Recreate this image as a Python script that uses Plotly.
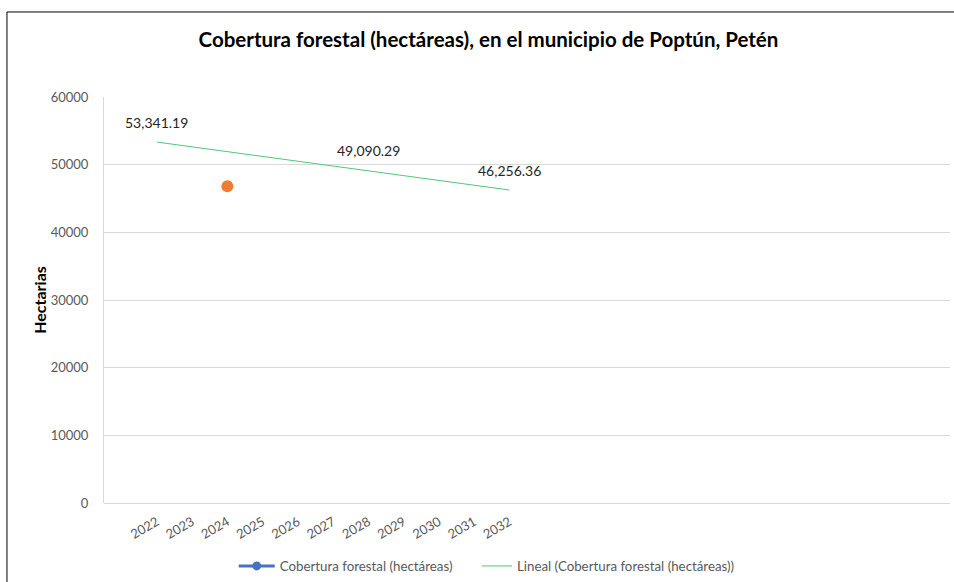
import plotly.graph_objects as go

# ---- data ----
years = [2022, 2023, 2024, 2025, 2026, 2027, 2028, 2029, 2030, 2031, 2032]
tick_labels = [str(y) for y in years]
label_years = [2022, 2028, 2032]
label_values = [53341.19, 49090.29, 46256.36]
trend_years = [2022, 2032]
trend_values = [53341.19, 46256.36]
dot_years = [2024]
dot_values = [46800]
y_ticks = [0, 10000, 20000, 30000, 40000, 50000, 60000]

FONT = "Lato"
fig = go.Figure()

# legend entry for the main series (no visible points)
fig.add_trace(go.Scatter(
    x=[None], y=[None], mode="lines+markers",
    name="Cobertura forestal (hectáreas)",
    line=dict(color="#4472C4", width=3),
    marker=dict(color="#4472C4", size=9),
    legend="legend",
))
# trend line
fig.add_trace(go.Scatter(
    x=trend_years, y=trend_values, mode="lines",
    name="Lineal (Cobertura forestal (hectáreas))",
    line=dict(color="#4CC97A", width=1),
    legend="legend2",
))
# orange point
fig.add_trace(go.Scatter(
    x=dot_years, y=dot_values, mode="markers", showlegend=False,
    marker=dict(color="#ED7D31", size=12),
))

annotations = []
for xv, yv in zip(label_years, label_values):
    annotations.append(dict(
        x=xv, y=yv, xref="x", yref="y", text=f"{yv:,.2f}",
        showarrow=False, yshift=20,
        font=dict(family=FONT, size=14, color="#262626"),
    ))

legend_font = dict(family=FONT, size=13.3, color="#595959")

fig.update_layout(
    width=954, height=582,
    paper_bgcolor="white", plot_bgcolor="white",
    margin=dict(l=104, r=4, t=97, b=79),
    title=dict(
        text="<b>Cobertura forestal (hectáreas), en el municipio de Poptún, Petén</b>",
        x=0.512, xanchor="center", xref="container",
        y=0.932, yanchor="middle", yref="container",
        font=dict(family=FONT, size=20.5, color="#000000"),
    ),
    xaxis=dict(
        range=[2020.5, 2044.5], tickmode="array",
        tickvals=years, ticktext=tick_labels, tickangle=-30,
        showgrid=False, zeroline=False, showline=False,
        tickfont=dict(family=FONT, size=13, color="#595959"),
        ticks="", ticklabelstandoff=8,
    ),
    yaxis=dict(
        range=[0, 60000], tickmode="array", tickvals=y_ticks,
        ticktext=[str(v) for v in y_ticks],
        showgrid=True, gridcolor="#D9D9D9", gridwidth=1,
        zeroline=True, zerolinecolor="#D9D9D9", zerolinewidth=1,
        showline=True, linecolor="#D9D9D9", linewidth=1,
        tickfont=dict(family=FONT, size=13, color="#595959"),
        ticks="", ticklabelstandoff=12,
        title=dict(text="<b>Hectarias</b>", standoff=0,
                   font=dict(family=FONT, size=16, color="#000000")),
    ),
    legend=dict(
        orientation="h", x=0.245, xanchor="left", xref="container",
        y=0.027, yanchor="middle", yref="container",
        font=legend_font, itemwidth=36,
    ),
    legend2=dict(
        orientation="h", x=0.5, xanchor="left", xref="container",
        y=0.027, yanchor="middle", yref="container",
        font=legend_font, itemwidth=30,
    ),
    annotations=annotations,
    shapes=[
        dict(type="line", xref="paper", yref="paper",
             x0=-0.1147, x1=1.01, y0=1.2094, y1=1.2094,
             line=dict(color="black", width=1)),
        dict(type="line", xref="paper", yref="paper",
             x0=-0.1147, x1=-0.1147, y0=1.2094, y1=-0.2,
             line=dict(color="black", width=1)),
    ],
)

fig.write_html(
    "out.html",
    config={"displayModeBar": False},
    post_script="document.body.style.margin='0';document.body.style.overflow='hidden';",
)
